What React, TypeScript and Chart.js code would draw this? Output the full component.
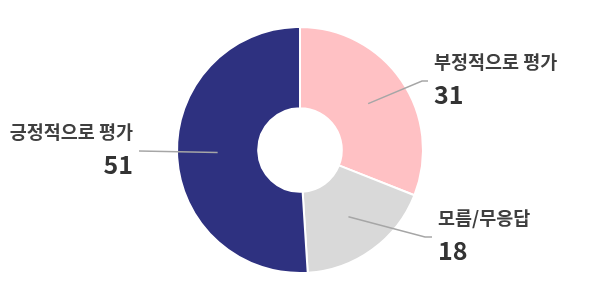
import React, { useEffect, useRef } from "react";
import { Chart, registerables } from "chart.js";

Chart.register(...registerables);

const categories = ["부정적으로 평가", "모름/무응답", "긍정적으로 평가"];
const values = [31, 18, 51];
const colors = ["#FFC1C4", "#D9D9D9", "#2E3180"];

// leader line layout (relative to chart center): elbow point, tail length, side
const leaderLayout = [
  { elbow: [122, -69], tail: 6, side: "right" },
  { elbow: [125, 87], tail: 7, side: "right" },
  { elbow: [-161, 1], tail: 0, side: "left" },
];

const labelPlugin = {
  id: "leaderLabels",
  afterDatasetsDraw(chart: any) {
    const ctx = chart.ctx;
    const meta = chart.getDatasetMeta(0);
    meta.data.forEach((arc: any, i: number) => {
      const { x, y, startAngle, endAngle, innerRadius, outerRadius } = arc.getProps(
        ["x", "y", "startAngle", "endAngle", "innerRadius", "outerRadius"],
        true
      );
      const mid = (startAngle + endAngle) / 2;
      const r = (innerRadius + outerRadius) / 2;
      const sx = x + Math.cos(mid) * r;
      const sy = y + Math.sin(mid) * r;
      const lay = leaderLayout[i];
      const ex = x + lay.elbow[0];
      const ey = y + lay.elbow[1];
      const dir = lay.side === "right" ? 1 : -1;
      const tx = ex + dir * lay.tail;
      ctx.save();
      ctx.strokeStyle = "#A6A6A6";
      ctx.lineWidth = 1.5;
      ctx.beginPath();
      ctx.moveTo(sx, sy);
      ctx.lineTo(ex, ey);
      ctx.lineTo(tx, ey);
      ctx.stroke();
      const textX = tx + dir * 6;
      ctx.textAlign = lay.side === "right" ? "left" : "right";
      ctx.textBaseline = "middle";
      ctx.fillStyle = "#3F3F3F";
      ctx.font = 'bold 18.5px "Noto Sans CJK KR"';
      ctx.fillText(categories[i], textX, ey - 19);
      ctx.fillStyle = "#333333";
      ctx.font = 'bold 25px "Noto Sans CJK KR"';
      ctx.fillText(String(values[i]), textX, ey + 13);
      ctx.restore();
    });
  },
};

export default function App() {
  const ref = useRef<HTMLCanvasElement>(null);
  useEffect(() => {
    document.body.style.margin = "0";
    const chart = new Chart(ref.current!, {
      type: "doughnut",
      data: {
        labels: categories,
        datasets: [
          {
            data: values,
            backgroundColor: colors,
            borderColor: "#FFFFFF",
            borderWidth: 2,
          },
        ],
      },
      options: {
        responsive: false,
        animation: false,
        radius: 123,
        cutout: "34%",
        rotation: 0,
        plugins: {
          legend: { display: false },
          tooltip: { enabled: false },
        },
      },
      plugins: [labelPlugin],
    });
    return () => chart.destroy();
  }, []);
  return (
    <div style={{ width: 600, height: 300, background: "#fff" }}>
      <canvas ref={ref} width={600} height={300} />
    </div>
  );
}
